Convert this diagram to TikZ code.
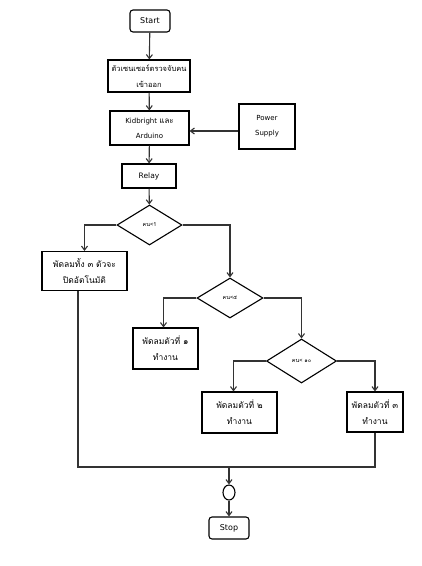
\documentclass[tikz,border=0pt]{standalone}
\usepackage{fontspec}
\setmainfont{DejaVu Sans}
\newfontfamily\thai[Script=Thai]{Loma}
\usetikzlibrary{shapes.geometric,arrows.meta}
\tikzset{
  x=1pt,y=-1pt,
  every node/.style={inner sep=0pt, align=center, text=black},
  box/.style={draw, line width=1.1pt, rectangle},
  term/.style={draw, line width=1.1pt, rectangle, rounded corners=3pt, font=\fontsize{8}{9}\selectfont},
  dec/.style={draw, line width=1.1pt, diamond, font=\thai\fontsize{5.5}{6}\selectfont},
  conn/.style={line width=1.1pt, draw=black!80},
  arr/.style={conn, -{Straight Barb[length=4pt,width=6pt]}},
  th/.style={font=\thai\fontsize{8.5}{16}\selectfont},
  lt/.style={font=\fontsize{7}{15}\selectfont}
}
\begin{document}
\begin{tikzpicture}
\useasboundingbox (0,0) rectangle (422,566);
\node[term, minimum width=40, minimum height=22] (start) at (150,21) {Start};
\node[box, font=\thai\fontsize{7.5}{16}\selectfont, minimum width=82, minimum height=32] (sensor) at (149,76) {ตัวเซนเซอร์ตรวจจับคน\\เข้าออก};
\node[box, lt, minimum width=79, minimum height=34] (kid) at (149.5,128) {Kidbright {\thai\fontsize{8}{15}\selectfont และ}\\Arduino};
\node[box, lt, minimum width=56, minimum height=45] (ps) at (267,126.5) {Power\\Supply};
\node[box, lt, font=\fontsize{7.5}{9}\selectfont, minimum width=54, minimum height=24] (relay) at (149,176) {Relay};
\node[dec, minimum width=65, minimum height=40] (d1) at (149.5,225) {คน<1};
\node[box, th, minimum width=85, minimum height=39] (all) at (84.5,271) {พัดลมทั้ง ๓ ตัวจะ\\ปิดอัตโนมัติ};
\node[dec, minimum width=66, minimum height=40] (d2) at (230,298) {คน<๕};
\node[box, th, minimum width=65, minimum height=41] (f1) at (165.5,348.5) {พัดลมตัวที่ ๑\\ทำงาน};
\node[dec, minimum width=70, minimum height=44] (d3) at (301.5,361) {คน< ๑๐};
\node[box, th, minimum width=75, minimum height=41] (f2) at (239.5,412.5) {พัดลมตัวที่ ๒\\ทำงาน};
\node[box, th, minimum width=56, minimum height=40] (f3) at (375,412) {พัดลมตัวที่ ๓\\ทำงาน};
\coordinate (m) at (229,467);
\node[draw, line width=1.1pt, ellipse, minimum width=12, minimum height=15] (el) at (229,492.5) {};
\node[term, minimum width=40, minimum height=22] (stop) at (229,528) {Stop};

\draw[arr] (start) -- (sensor);
\draw[arr] (sensor) -- (kid);
\draw[arr] (ps.west |- 0,131) -- (kid.east |- 0,131);
\draw[arr] (kid) -- (relay);
\draw[arr] (relay) -- (d1);
\draw[arr] (d1.west) -| (all.north);
\draw[arr] (d1.east) -| (d2.north);
\draw[arr] (d2.west) -| ([xshift=-2]f1.north);
\draw[arr] (d2.east) -| (d3.north);
\draw[arr] (d3.west) -| ([xshift=-6]f2.north);
\draw[arr] (d3.east) -| (f3.north);
\draw[conn] ([xshift=-6.5]all.south) |- (m);
\draw[conn] (f3.south) |- (m);
\draw[arr] (m) -- (el);
\draw[arr] (el) -- (stop);
\end{tikzpicture}
\end{document}
